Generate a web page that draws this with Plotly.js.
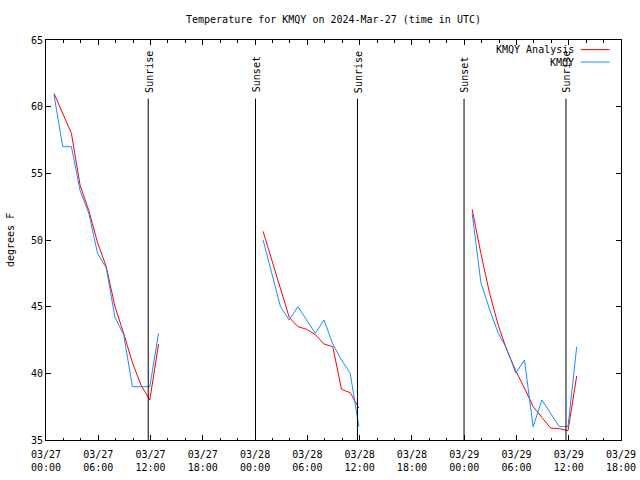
<!DOCTYPE html>
<html><head><meta charset="utf-8">
<script src="https://cdn.plot.ly/plotly-3.0.1.min.js"></script>
<style>html,body{margin:0;padding:0;background:#fff}#chart{width:640px;height:480px}</style>
</head><body><div id="chart"></div>
<script>
const FONT = 'DejaVu Sans Mono, monospace';
const titleText = 'Temperature for KMQY on 2024-Mar-27 (time in UTC)';
const yTitle = 'degrees F';
const seriesNames = ['KMQY Analysis', 'KMQY'];
const seriesColors = ['#ff0000', '#1a8cff'];

const timesDay1 = ['2024-03-27 00:55','2024-03-27 01:55','2024-03-27 02:55','2024-03-27 03:55','2024-03-27 04:55','2024-03-27 05:55','2024-03-27 06:55','2024-03-27 07:55','2024-03-27 08:55','2024-03-27 09:55','2024-03-27 10:55','2024-03-27 11:55','2024-03-27 12:55'];
const timesDay2 = ['2024-03-28 00:55','2024-03-28 01:55','2024-03-28 02:55','2024-03-28 03:55','2024-03-28 04:55','2024-03-28 05:55','2024-03-28 06:55','2024-03-28 07:55','2024-03-28 08:55','2024-03-28 09:55','2024-03-28 10:55','2024-03-28 11:55'];
const timesDay3 = ['2024-03-29 00:55','2024-03-29 01:55','2024-03-29 02:55','2024-03-29 03:55','2024-03-29 04:55','2024-03-29 05:55','2024-03-29 06:55','2024-03-29 07:55','2024-03-29 08:55','2024-03-29 09:55','2024-03-29 10:55','2024-03-29 11:55','2024-03-29 12:55'];

const analysisDay1 = [61.0, 59.5, 58.0, 54.1, 52.2, 49.8, 48.0, 45.0, 43.0, 40.8, 39.1, 38.0, 42.2];
const analysisDay2 = [50.65, 48.5, 46.5, 44.2, 43.5, 43.3, 42.9, 42.2, 42.0, 38.8, 38.55, 37.4];
const analysisDay3 = [52.3, 49.0, 46.0, 43.6, 41.7, 40.2, 38.9, 37.5, 36.7, 35.9, 35.85, 35.7, 39.8];

const obsDay1 = [60.9, 57, 57, 53.7, 52.0, 49.0, 47.9, 44.2, 42.9, 39, 39, 39, 43];
const obsDay2 = [50, 47.5, 45, 44, 45, 44, 43, 44, 42.2, 41, 40, 36];
const obsDay3 = [52, 46.8, 44.8, 43, 41.8, 40, 41, 36, 38, 37, 36, 36, 42];

const eventTimes = ['2024-03-27 11:44','2024-03-28 00:03','2024-03-28 11:45','2024-03-28 23:59','2024-03-29 11:41'];
const eventLabels = ['Sunrise','Sunset','Sunrise','Sunset','Sunrise'];
const eventLineTop = 60.6;
const eventLabelBase = 60.9;

const dayTimes = [timesDay1, timesDay2, timesDay3];
const analysisDays = [analysisDay1, analysisDay2, analysisDay3];
const obsDays = [obsDay1, obsDay2, obsDay3];

const traces = [];
dayTimes.forEach((t, i) => {
  traces.push({x: t, y: analysisDays[i], type: 'scatter', mode: 'lines', name: seriesNames[0],
    line: {color: seriesColors[0], width: 1}, showlegend: false, hoverinfo: 'skip'});
});
dayTimes.forEach((t, i) => {
  traces.push({x: t, y: obsDays[i], type: 'scatter', mode: 'lines', name: seriesNames[1],
    line: {color: seriesColors[1], width: 1}, showlegend: false, hoverinfo: 'skip'});
});

const shapes = eventTimes.map(t => ({type: 'line', xref: 'x', yref: 'y', x0: t, x1: t, y0: 35, y1: eventLineTop,
  line: {color: '#000', width: 1}}));
const annotations = eventTimes.map((t, i) => ({xref: 'x', yref: 'y', x: t, y: eventLabelBase, text: eventLabels[i],
  textangle: -90, showarrow: false, xanchor: 'center', yanchor: 'bottom', xshift: 1,
  font: {family: FONT, size: 10, color: '#000'}}));

// custom legend (text right-aligned, sample line on the right)
const legendRows = [0.976, 0.945];
seriesNames.forEach((n, i) => {
  annotations.push({xref: 'paper', yref: 'paper', x: 0.921, y: legendRows[i], text: n, showarrow: false,
    xanchor: 'right', yanchor: 'middle', font: {family: FONT, size: 10, color: '#000'}});
  shapes.push({type: 'line', xref: 'paper', yref: 'paper', x0: 0.930, x1: 0.980, y0: legendRows[i], y1: legendRows[i],
    line: {color: seriesColors[i], width: 1}});
});
annotations.push({xref: 'paper', yref: 'paper', x: -0.0626, y: 0.5, text: yTitle, textangle: -90, showarrow: false,
  xanchor: 'center', yanchor: 'middle', font: {family: FONT, size: 10, color: '#000'}});

const layout = {
  width: 640, height: 480,
  margin: {l: 46, r: 19, t: 40, b: 40, pad: 0},
  paper_bgcolor: '#fff', plot_bgcolor: '#fff',
  font: {family: FONT, size: 10, color: '#000'},
  showlegend: false,
  title: {text: titleText, x: 0.5, xref: 'paper', xanchor: 'center', y: 1 - 19/480, yref: 'container', yanchor: 'middle',
    font: {family: FONT, size: 10, color: '#000'}},
  xaxis: {type: 'date', range: ['2024-03-27 00:00', '2024-03-29 18:00'], tick0: '2024-03-27 00:00', dtick: 6*3600*1000,
    tickformat: '%m/%d<br>%H:%M', ticks: 'inside', ticklen: 5, tickcolor: '#000', tickwidth: 1, ticklabelstandoff: 5,
    showline: true, linecolor: '#000', linewidth: 1, mirror: 'ticks', showgrid: false, zeroline: false,
    minor: {dtick: 2*3600*1000, ticks: 'inside', ticklen: 2.5, tickcolor: '#000', tickwidth: 1, showgrid: false},
    tickfont: {family: FONT, size: 10, color: '#000'}, fixedrange: true},
  yaxis: {range: [35, 65], tick0: 35, dtick: 5, ticks: 'inside', ticklen: 5, tickcolor: '#000', tickwidth: 1,
    showline: true, linecolor: '#000', linewidth: 1, mirror: 'ticks', showgrid: false, zeroline: false,
    tickfont: {family: FONT, size: 10, color: '#000'}, fixedrange: true},
  shapes: shapes,
  annotations: annotations
};
Plotly.newPlot('chart', traces, layout, {staticPlot: true, displayModeBar: false});
</script></body></html>
